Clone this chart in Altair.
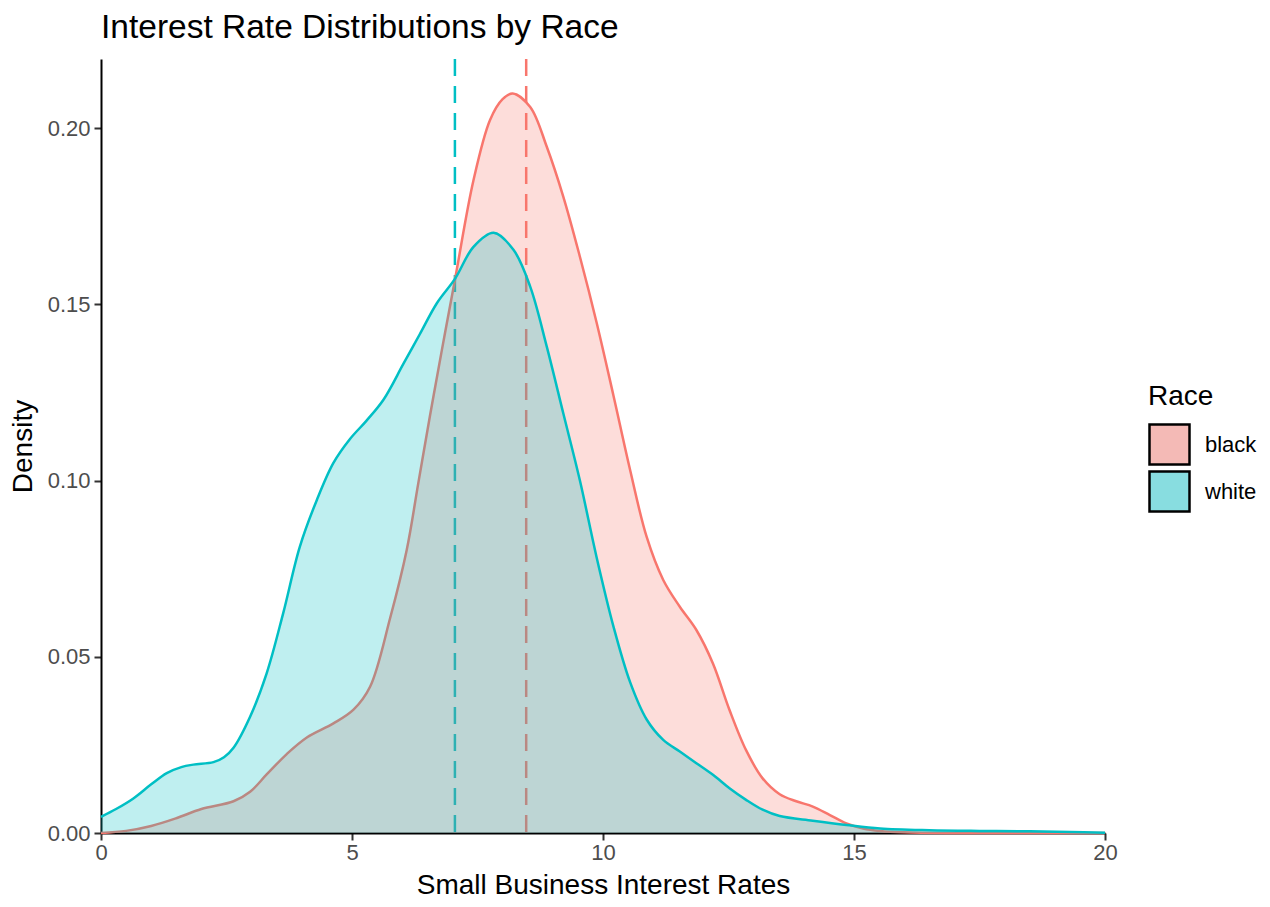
import altair as alt
import pandas as pd

# ---- data ----
races = ["black", "white"]
race_colors = ["#F8766D", "#00BFC4"]
legend_colors = ["#F4BAB6", "#88DDE0"]

black_x = [0.0, 0.5, 1.0, 1.5, 2.0, 2.64, 2.97, 3.3, 3.7, 4.1, 4.63, 5.03, 5.36,
           5.76, 6.09, 6.32, 6.55, 6.79, 7.05, 7.42, 7.75, 8.0, 8.2, 8.55, 8.88,
           9.21, 9.54, 9.87, 10.21, 10.54, 10.87, 11.2, 11.53, 11.86, 12.19,
           12.52, 12.85, 13.18, 13.52, 13.85, 14.18, 14.52, 14.85, 15.18, 15.52,
           16.0, 17.0, 20.0]
black_y = [0.0, 0.0006, 0.0020, 0.0042, 0.0068, 0.0090, 0.0117, 0.0166, 0.0224,
           0.0271, 0.0311, 0.0350, 0.0415, 0.0610, 0.0803, 0.0992, 0.1181,
           0.1370, 0.1569, 0.1852, 0.2023, 0.2082, 0.2098, 0.2060, 0.1947,
           0.1805, 0.1635, 0.1450, 0.1240, 0.1030, 0.0840, 0.0718, 0.0642,
           0.0576, 0.0481, 0.0349, 0.0235, 0.0155, 0.0110, 0.0090, 0.0075,
           0.0051, 0.0027, 0.0013, 0.0006, 0.0002, 0.0, 0.0]

white_x = [0.0, 0.3, 0.645, 1.0, 1.31, 1.6, 1.84, 2.24, 2.45, 2.64, 2.97, 3.3,
           3.63, 3.96, 4.3, 4.63, 4.96, 5.29, 5.63, 6.02, 6.35, 6.69, 7.05, 7.42,
           7.82, 8.22, 8.55, 8.88, 9.21, 9.54, 9.87, 10.21, 10.54, 10.87, 11.2,
           11.53, 11.86, 12.19, 12.52, 12.85, 13.18, 13.52, 14.18, 14.85, 15.52,
           16.5, 17.5, 18.5, 19.3, 20.0]
white_y = [0.0046, 0.0068, 0.0098, 0.0138, 0.0170, 0.0187, 0.0194, 0.0201,
           0.0215, 0.0242, 0.0330, 0.0453, 0.0624, 0.0812, 0.0945, 0.1050,
           0.1118, 0.1170, 0.1230, 0.1330, 0.1415, 0.1503, 0.1572, 0.1663,
           0.1703, 0.1654, 0.1550, 0.1380, 0.1190, 0.1000, 0.0784, 0.0585,
           0.0428, 0.0322, 0.0264, 0.0231, 0.0198, 0.0165, 0.0127, 0.0094,
           0.0066, 0.0048, 0.0035, 0.0023, 0.0013, 0.0008, 0.0006, 0.0005,
           0.0003, 0.0001]

mean_race = ["black", "white"]
mean_rate = [8.47, 7.05]

x_ticks = [0, 5, 10, 15, 20]
y_ticks = [0.0, 0.05, 0.10, 0.15, 0.20]

# ---- tables ----
dens = pd.concat([
    pd.DataFrame({"rate": black_x, "density": black_y, "race": "black"}),
    pd.DataFrame({"rate": white_x, "density": white_y, "race": "white"}),
], ignore_index=True)
means = pd.DataFrame({"race": mean_race, "rate": mean_rate})
color_of = dict(zip(races, race_colors))

FONT = "Liberation Sans"
INTERP = "catmull-rom"

x_scale = alt.Scale(domain=[0, 20], nice=False, zero=False)
y_scale = alt.Scale(domain=[0, 0.2196], nice=False)

x_enc = alt.X("rate:Q", scale=x_scale,
              axis=alt.Axis(title="Small Business Interest Rates", values=x_ticks,
                            format="d", titlePadding=8, labelPadding=2,
                            labelFlush=False))
y_enc = alt.Y("density:Q", scale=y_scale,
              axis=alt.Axis(title="Density", values=y_ticks, format=".2f",
                            titlePadding=10, labelFlush=False))

# dashed mean lines (drawn first, under the densities)
rule_layers = [
    alt.Chart(means).transform_filter(alt.datum.race == r)
    .mark_rule(strokeWidth=2.5, strokeDash=[17, 10], color=color_of[r])
    .encode(x=alt.X("rate:Q", scale=x_scale))
    for r in races
]


def series(name):
    base = alt.Chart(dens).transform_filter(alt.datum.race == name)
    area = base.mark_area(fillOpacity=0.25, interpolate=INTERP,
                          color=color_of[name]).encode(x=x_enc, y=y_enc)
    line = base.mark_line(strokeWidth=2.5, interpolate=INTERP,
                          color=color_of[name]).encode(x=x_enc, y=y_enc)
    return area + line


# carrier of the legend only (one point per race -> no visible area)
legend_layer = alt.Chart(means).mark_area(opacity=1).encode(
    x=alt.X("rate:Q", scale=x_scale),
    y=alt.datum(0),
    color=alt.Color("race:N",
                    scale=alt.Scale(domain=races, range=legend_colors),
                    legend=alt.Legend(
                        title="Race", orient="none", legendX=1047, legendY=324,
                        symbolType="square", symbolSize=1600,
                        symbolStrokeColor="black", symbolStrokeWidth=2.5,
                        symbolOpacity=1,
                        titleFontSize=28, titleFont=FONT, titleFontWeight="normal",
                        titleColor="black", titlePadding=12,
                        labelFontSize=22, labelFont=FONT, labelColor="black",
                        labelOffset=14, rowPadding=-6,
                    )),
)

chart = alt.layer(*rule_layers, series("black"), series("white"),
                  legend_layer).properties(
    width=1004, height=774,
    title=alt.TitleParams("Interest Rate Distributions by Race", anchor="start",
                          frame="group",
                          fontSize=33.5, font=FONT, fontWeight="normal",
                          color="black", offset=12),
    autosize=alt.AutoSizeParams(type="none"),
    padding={"left": 93, "top": 51, "right": 157, "bottom": 66},
).configure_view(stroke=None).configure_axis(
    grid=False,
    domainColor="black", domainWidth=2,
    tickColor="#333333", tickWidth=2, tickSize=7,
    labelColor="#4D4D4D", labelFontSize=22, labelFont=FONT, labelPadding=4,
    titleColor="black", titleFontSize=28, titleFont=FONT, titleFontWeight="normal",
)

chart.save("out.html", embed_options={"renderer": "svg", "actions": False})
